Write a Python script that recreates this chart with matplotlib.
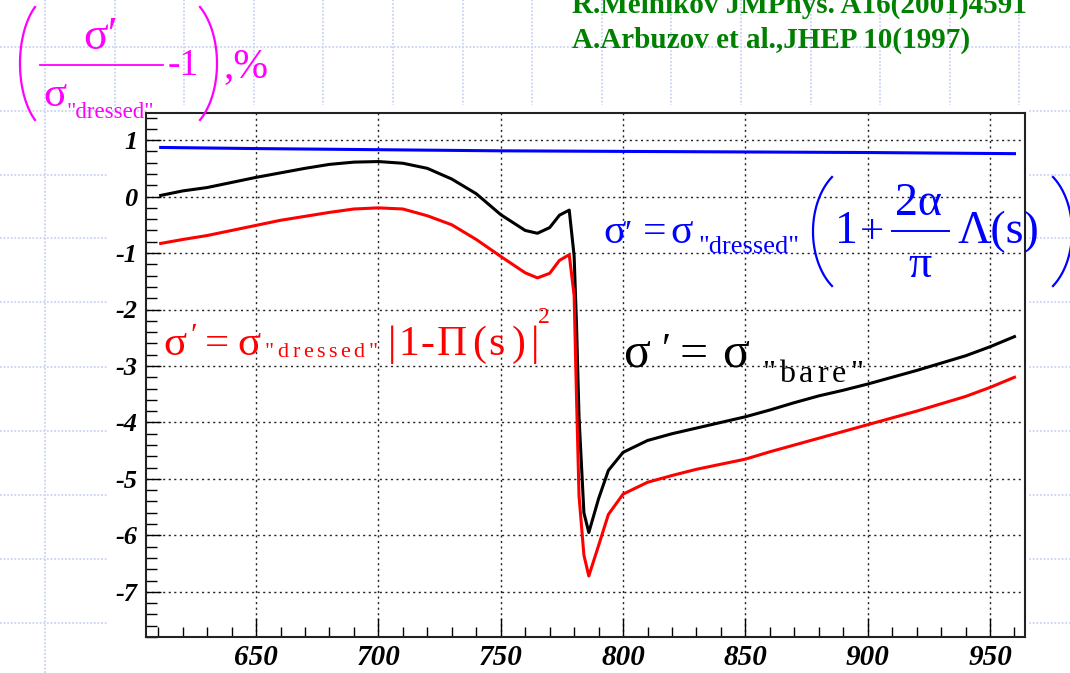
import numpy as np
import matplotlib
matplotlib.use('Agg')
import matplotlib.pyplot as plt
from matplotlib.lines import Line2D
from matplotlib.patches import Rectangle

plt.rcParams['axes.unicode_minus'] = False
SERIF = ['Liberation Serif', 'DejaVu Serif']

# data
x_curve = [611, 620, 630, 640, 650, 660, 670, 680, 690, 700, 710, 720, 730, 740, 750,
           760, 765, 770, 774, 778, 780, 781, 782, 784, 786, 790, 794, 800, 810, 820,
           830, 840, 850, 860, 870, 880, 890, 900, 910, 920, 930, 940, 950, 960]
bare = [0.02, 0.10, 0.16, 0.25, 0.34, 0.42, 0.50, 0.57, 0.61, 0.62, 0.59, 0.50, 0.31, 0.05, -0.32,
        -0.60, -0.65, -0.55, -0.33, -0.24, -1.05, -2.30, -3.90, -5.60, -5.95, -5.35, -4.85, -4.53, -4.32, -4.20,
        -4.10, -4.00, -3.90, -3.78, -3.65, -3.53, -3.43, -3.32, -3.20, -3.08, -2.95, -2.82, -2.66, -2.48]
vp = [-0.83, -0.76, -0.69, -0.60, -0.51, -0.42, -0.35, -0.28, -0.22, -0.20, -0.22, -0.34, -0.50, -0.76, -1.06,
      -1.35, -1.44, -1.36, -1.13, -1.03, -1.75, -3.60, -5.30, -6.35, -6.72, -6.18, -5.63, -5.27, -5.06, -4.94,
      -4.83, -4.74, -4.65, -4.52, -4.40, -4.28, -4.16, -4.04, -3.92, -3.80, -3.67, -3.54, -3.38, -3.20]
x_blue = [611, 650, 700, 750, 800, 850, 900, 960]
fsr = [0.87, 0.85, 0.83, 0.81, 0.80, 0.79, 0.78, 0.76]

x_ticks = [650, 700, 750, 800, 850, 900, 950]
y_ticks = [1, 0, -1, -2, -3, -4, -5, -6, -7]

W, H = 1070, 673
fig = plt.figure(figsize=(10.7, 6.73), dpi=100)


def put(s, x, y, size, color, **kw):
    # place text at pixel position (x from left, y from top), baseline aligned
    kw.setdefault('ha', 'left')
    kw.setdefault('va', 'baseline')
    return fig.text(x / W, 1 - y / H, s, fontsize=size, color=color,
                    family=SERIF, zorder=5, **kw)


def spaced(s, x, y, size, color, gap):
    r = fig.canvas.get_renderer()
    for ch in s:
        t = put(ch, x, y, size, color)
        x += t.get_window_extent(r).width + gap


def paren(x_end, x_mid, y0, y1, color, lw=1.6):
    th = np.linspace(-1.0, 1.0, 60)
    a = 0.95
    xs = x_mid + (x_end - x_mid) * (1 - np.cos(th * a)) / (1 - np.cos(a))
    ys = (y0 + y1) / 2 + (y1 - y0) / 2 * np.sin(th * a) / np.sin(a)
    fig.add_artist(Line2D(xs / W, 1 - ys / H, color=color, lw=lw, zorder=5))


# slide background grid
bg = dict(color='#c9d3f5', lw=1.3, ls=(0, (1, 1)), zorder=-3)
for yy in [47, 111, 175, 238, 302, 367, 431, 495, 559, 623]:
    fig.add_artist(Line2D([0, 1], [1 - yy / H] * 2, **bg))
for xx in 45 + 69.6 * np.arange(15):
    fig.add_artist(Line2D([xx / W] * 2, [0, 1], **bg))
fig.add_artist(Rectangle((108 / W, 0), 920 / W, (673 - 113) / H, color='white', zorder=-2))
fig.add_artist(Rectangle((147 / W, 1 - 113 / H), 881 / W, 8 / H, color='white', zorder=-2))

ax = fig.add_axes([146 / W, 1 - 637 / H, 879 / W, 524 / H])
ax.plot(x_blue, fsr, color='#0000ff', lw=2.2)
ax.plot(x_curve, bare, color='black', lw=2.2)
ax.plot(x_curve, vp, color='#ff0000', lw=2.2)

ax.set_xlim(605.0, 964.3)
ax.set_ylim(-7.8, 1.48)
ax.set_xticks(x_ticks, [str(v) for v in x_ticks], fontsize=21, fontweight='bold',
              fontstyle='italic', family=SERIF)
ax.set_yticks(y_ticks, [str(v) for v in y_ticks], fontsize=19, fontweight='bold',
              fontstyle='italic', family=SERIF)
ax.set_xticks(np.arange(610, 965, 10), minor=True)
ax.set_yticks(np.arange(-7.8, 1.5, 0.2), minor=True)
ax.tick_params(axis='x', which='major', direction='in', length=14, width=1, pad=5)
ax.tick_params(axis='x', which='minor', direction='in', length=7, width=1)
ax.tick_params(axis='y', which='major', direction='in', length=10.5, width=1, pad=6)
ax.tick_params(axis='y', which='minor', direction='in', length=8, width=1)
ax.grid(which='major', color='#222222', ls=(0, (1.5, 2.5)), lw=1)
for s in ax.spines.values():
    s.set_linewidth(1.5)
    s.set_color('#222222')

# green references
green = '#008000'
put('R.Melnikov JMPhys. A16(2001)4591', 572, 13, 21, green, fontweight='bold')
put('A.Arbuzov et al.,JHEP 10(1997)', 572, 48, 21, green, fontweight='bold')

# magenta axis label
mg = '#ff00ff'
paren(35, 20, 7, 120, mg)
paren(200, 217, 7, 120, mg)
put('σ′', 83, 49, 33, mg)
fig.add_artist(Line2D([40 / W, 163 / W], [1 - 65 / H] * 2, color=mg, lw=1.3, zorder=5))
put('-1', 168, 75, 27, mg)
put('σ', 43, 106, 31, mg)
put('"dressed"', 67, 118, 16.5, mg)
put(',%', 223, 77, 30, mg)

# blue formula
bl = '#0000ff'
put('σ', 603, 243, 30, bl)
put('′', 624, 243, 24, bl)
put('=', 643, 243, 30, bl)
put('σ', 670, 243, 30, bl)
put('"dressed"', 698, 253, 19, bl)
paren(832, 813, 177, 286, bl)
put('1', 835, 243, 33, bl)
put('+', 860, 243, 31, bl)
put('2α', 895, 215, 33, bl)
fig.add_artist(Line2D([892 / W, 949 / W], [1 - 231 / H] * 2, color=bl, lw=1.4, zorder=5))
put('π', 908, 277, 33, bl)
put('Λ(s)', 957, 243, 33, bl)
paren(1053, 1072, 177, 286, bl)

# red formula
rd = '#ff0000'
put('σ', 163, 355, 31, rd)
put('′', 190, 345, 22, rd)
put('=', 205, 355, 31, rd)
put('σ', 237, 355, 31, rd)
spaced('"dressed"', 265, 357, 16, rd, 3.5)
put('|', 388, 355, 30, rd)
put('1', 398, 355, 30, rd)
put('-', 421, 355, 30, rd)
put('Π', 437, 355, 30, rd)
put('(', 472, 355, 30, rd)
put('s', 488, 355, 30, rd)
put(')', 512, 355, 30, rd)
put('|', 531, 355, 30, rd)
put('2', 538, 323, 17, rd)

# black formula
put('σ', 623, 367, 36, 'black')
put('′', 662, 362, 30, 'black')
put('=', 680, 367, 36, 'black')
put('σ', 722, 367, 36, 'black')
spaced('"bare"', 762, 382, 23, 'black', 4)

fig.savefig('out.png', dpi=100)
